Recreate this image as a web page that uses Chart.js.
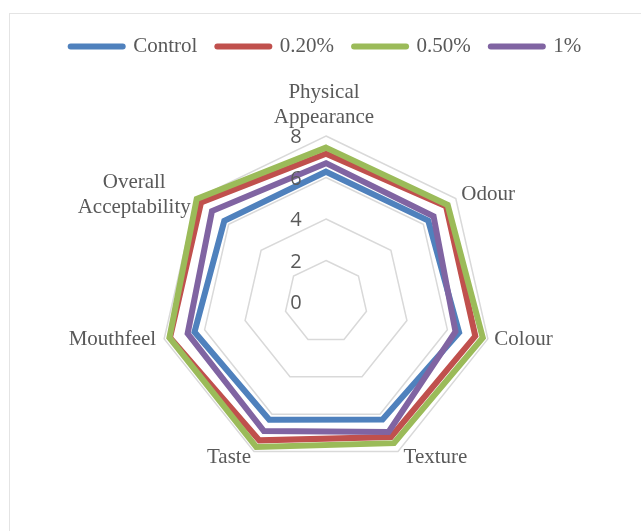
<!DOCTYPE html>
<html>
<head>
<meta charset="utf-8">
<script src="https://cdn.jsdelivr.net/npm/chart.js@4.4.1/dist/chart.umd.min.js"></script>
<style>
  html,body{margin:0;padding:0;background:#fff;}
  #wrap{position:relative;width:641px;height:531px;overflow:hidden;}
  #frame{position:absolute;left:9px;top:13px;width:700px;height:600px;border:1px solid #e4e4e4;}
  #chart{position:absolute;left:0;top:0;}
</style>
</head>
<body>
<div id="wrap"><div id="frame"></div><canvas id="chart" width="641" height="531"></canvas></div>
<script>
/* ====== DATA ====== */
const attributes = [['Physical','Appearance'], 'Odour', 'Colour', 'Texture', 'Taste', 'Mouthfeel', ['Overall','Acceptability']];
const seriesNames = ['Control', '0.20%', '0.50%', '1%'];
const control = [6.28, 6.30, 6.58, 6.28, 6.30, 6.50, 6.27];
const pct020  = [7.15, 7.40, 7.38, 7.22, 7.40, 7.71, 7.70];
const pct050  = [7.44, 7.50, 7.75, 7.55, 7.75, 7.74, 7.97];
const pct100  = [6.69, 6.63, 6.40, 6.95, 6.90, 6.84, 7.03];
const tickValues = [0, 2, 4, 6, 8];

/* ====== STYLE ====== */
const colors = ['#4F81BD', '#C0504D', '#9BBB59', '#8064A2'];
const textGrey = '#595959';
// where each category label sits, relative to the outer (max) vertex
const labelPos = [
  {align:'center', dx:-2,   dy:-31},
  {align:'left',   dx:5.5,  dy:-4},
  {align:'left',   dx:6.5,  dy:1},
  {align:'left',   dx:5.5,  dy:6},
  {align:'right',  dx:-3,   dy:6},
  {align:'right',  dx:-8,   dy:1},
  {align:'center', dx:-62,  dy:-4}
];

/* ====== plugins ====== */
// extra room under the legend, like the Excel plot area
const legendSpacer = {
  id:'legendSpacer',
  afterInit(chart){
    const fit = chart.legend.fit;
    chart.legend.fit = function(){ fit.call(this); this.height += 69; };
  }
};

// tick numbers left of the vertical axis + category names, drawn from the r scale
const axisText = {
  id:'axisText',
  afterDatasetsDraw(chart){
    const r = chart.scales.r, ctx = chart.ctx;
    ctx.save();
    ctx.fillStyle = textGrey;
    ctx.textBaseline = 'middle';
    ctx.font = '20px "Open Sans"';
    ctx.textAlign = 'center';
    r.ticks.forEach(t=>{
      const d = r.getDistanceFromCenterForValue(t.value);
      ctx.fillText(t.label, r.xCenter - 30, r.yCenter - d + 1.5);
    });
    ctx.font = '21px "Liberation Serif"';
    chart.data.labels.forEach((lab, i)=>{
      const p = r.getPointPositionForValue(i, r.max), pos = labelPos[i];
      const lines = [].concat(lab), lh = 25;
      ctx.textAlign = pos.align;
      lines.forEach((ln, k)=>{
        ctx.fillText(ln, p.x + pos.dx, p.y + pos.dy - (lines.length - 1) * lh / 2 + k * lh);
      });
    });
    ctx.restore();
  }
};

const seriesData = [control, pct020, pct050, pct100];

new Chart(document.getElementById('chart'), {
  type:'radar',
  data:{
    labels: attributes,
    datasets: seriesNames.map((name, i)=>({
      label: name,
      data: seriesData[i],
      borderColor: colors[i],
      backgroundColor: colors[i],
      borderWidth: 6,
      borderJoinStyle: 'miter',
      pointRadius: 0,
      pointHoverRadius: 0,
      fill: false,
      order: seriesNames.length - 1 - i   // later series on top, like Excel
    }))
  },
  options:{
    responsive:false,
    animation:false,
    devicePixelRatio:1,
    layout:{padding:{top:16, left:11, right:0, bottom:63}},
    plugins:{
      legend:{
        position:'top',
        labels:{
          usePointStyle:true, pointStyle:'line', pointStyleWidth:52, padding:20,
          color:textGrey, font:{family:'"Liberation Serif"', size:21},
          generateLabels:(chart)=> Chart.defaults.plugins.legend.labels.generateLabels(chart)
            .map(it=>({...it, lineCap:'round', lineWidth:6})),
          sort:(a, b)=> a.datasetIndex - b.datasetIndex
        }
      },
      tooltip:{enabled:false}
    },
    scales:{
      r:{
        min: tickValues[0],
        max: tickValues[tickValues.length - 1],
        ticks:{display:false, stepSize: tickValues[1] - tickValues[0]},
        grid:{color:'#d9d9d9', lineWidth:1.5},
        angleLines:{display:false},
        pointLabels:{display:false}
      }
    }
  },
  plugins:[legendSpacer, axisText]
});
</script>
</body>
</html>
